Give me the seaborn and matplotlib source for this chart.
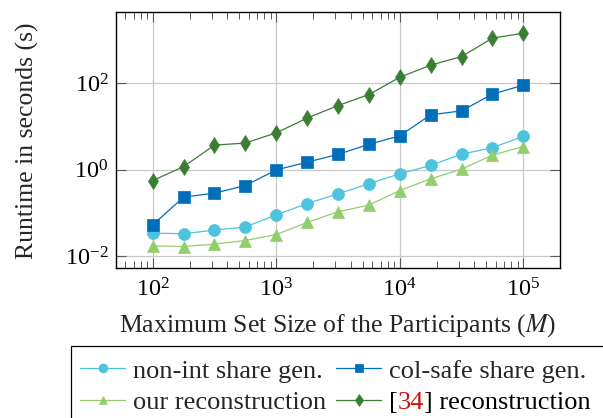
import numpy as np
import pandas as pd
import seaborn as sns
import matplotlib
matplotlib.use("Agg")
import matplotlib.pyplot as plt
from matplotlib.ticker import LogLocator, NullLocator, NullFormatter
from matplotlib.offsetbox import TextArea, HPacker
from matplotlib.patches import Rectangle

# ---- data ----
set_sizes = [100, 178, 316, 562, 1000, 1778, 3162, 5623, 10000, 17783, 31623, 56234, 100000]
non_int_share_gen = [0.034, 0.033, 0.040, 0.047, 0.090, 0.164, 0.275, 0.468, 0.80, 1.24, 2.27, 3.17, 5.9]
col_safe_share_gen = [0.053, 0.231, 0.285, 0.427, 0.98, 1.48, 2.24, 3.82, 6.0, 18.3, 22.6, 55.0, 88.7]
our_reconstruction = [0.0173, 0.0167, 0.019, 0.023, 0.0316, 0.060, 0.106, 0.151, 0.327, 0.61, 1.02, 2.15, 3.4]
ref34_reconstruction = [0.557, 1.17, 3.66, 4.09, 7.03, 15.4, 30.0, 53.8, 135, 257, 405, 1078, 1406]

labels = ["non-int share gen.", "col-safe share gen.", "our reconstruction", "[34] reconstruction"]
series = [non_int_share_gen, col_safe_share_gen, our_reconstruction, ref34_reconstruction]
colors = ["#4DC4DF", "#006EB8", "#93CE6D", "#3B7E33"]
markers = ["o", "s", "^", "d"]
msizes = [8.6, 8.6, 8.6, 8.0]

FS = 18.5
TFS = 17.5
LFS = 19

sns.set_theme(style="white")
plt.rcParams["font.family"] = ["Liberation Serif", "DejaVu Serif"]
plt.rcParams["mathtext.fontset"] = "stix"

fig = plt.figure(figsize=(6.03, 4.18), dpi=100)
ax = fig.add_axes([115.7 / 603, 1 - 268.3 / 418, (560.3 - 115.7) / 603, (268.3 - 12.3) / 418])

for lab, vals, c, m, ms in zip(labels, series, colors, markers, msizes):
    df = pd.DataFrame({"M": set_sizes, "t": vals})
    sns.lineplot(data=df, x="M", y="t", ax=ax, color=c, marker=m, markersize=ms,
                 markeredgecolor=c, markeredgewidth=0.5, linewidth=0.9, label=lab)

ax.set_xscale("log")
ax.set_yscale("log")
ax.set_xlim(10 ** 1.7, 10 ** 5.3)
ax.set_ylim(10 ** -2.28, 10 ** 3.63)

ax.xaxis.set_major_locator(LogLocator(base=10, numticks=10))
ax.xaxis.set_minor_locator(LogLocator(base=10, subs=np.arange(2, 10), numticks=20))
ax.xaxis.set_minor_formatter(NullFormatter())
ax.set_yticks([1e-2, 1e0, 1e2])
ax.yaxis.set_minor_locator(NullLocator())

ax.tick_params(which="both", direction="in", top=True, right=True, bottom=True, left=True,
               colors="#5a5a5a", labelcolor="black", labelsize=TFS)
ax.tick_params(which="major", length=7, width=0.8, pad=5)
ax.tick_params(axis="x", which="major", pad=7)
ax.tick_params(which="minor", length=5, width=0.7)

ax.grid(True, which="major", color="#c8c8c8", linewidth=0.9)
for s in ax.spines.values():
    s.set_color("black")
    s.set_linewidth(1.0)

ax.set_xlabel("Maximum Set Size of the Participants ($M$)", fontsize=FS, labelpad=8)
ax.set_ylabel("Runtime in seconds (s)", fontsize=FS, labelpad=19)

h, l = ax.get_legend_handles_labels()
if ax.get_legend():
    ax.get_legend().remove()
order = [0, 2, 1, 3]
leg = fig.legend([h[i] for i in order], [l[i] for i in order], ncol=2,
                 loc="upper left", bbox_to_anchor=(71 / 603, 1 - 350 / 418),
                 fontsize=LFS, frameon=False, markerscale=0.75,
                 handlelength=1.7, handletextpad=0.3, columnspacing=0.38,
                 labelspacing=0.3, borderpad=0.35, borderaxespad=0)

# legend box (wider/taller than the figure, as in the reference)
fig.patches.append(Rectangle((71 / 603, -0.2), 1.0, 1 - 346 / 418 + 0.2,
                             transform=fig.transFigure, fill=False,
                             edgecolor="black", linewidth=0.9))

# colour the citation number red
tp = dict(fontsize=LFS, color="black")
for col in leg._legend_handle_box.get_children():
    for row in col.get_children():
        kids = row.get_children()
        for i, k in enumerate(kids):
            if isinstance(k, TextArea) and k.get_text() == "[34] reconstruction":
                new = HPacker(children=[TextArea("[", textprops=tp),
                                        TextArea("34", textprops=dict(fontsize=LFS, color="#CC1111")),
                                        TextArea("] reconstruction", textprops=tp)],
                              pad=0, sep=0)
                new.set_figure(fig)
                kids[i] = new

fig.savefig("out.png", dpi=100)
